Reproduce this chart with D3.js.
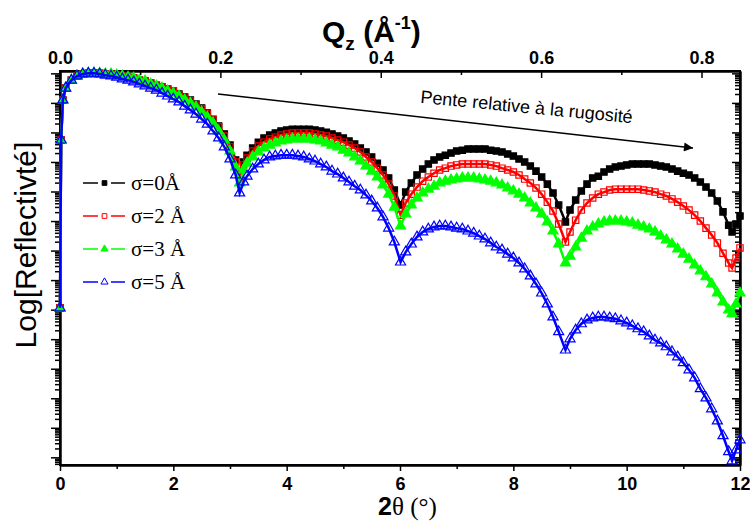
<!DOCTYPE html>
<html lang="fr">
<head>
<meta charset="utf-8">
<title>Réflectivité</title>
<script src="https://cdn.jsdelivr.net/npm/d3@7"></script>
<style>
  body { margin: 0; background: #fff; }
  svg { display: block; }
  .ax text { font-family: "Liberation Sans Narrow", "Arial Narrow", "Liberation Sans", sans-serif; font-weight: bold; font-size: 18px; fill: #000; }
  .ax path { stroke: #000; stroke-width: 2; }
  .ax line { stroke: #000; stroke-width: 1.5; }
</style>
</head>
<body>
<svg id="chart" width="750" height="524"></svg>
<script>
// 2theta (deg) sampling
const twoTheta = [0, 0.02, 0.05,
  0.1, 0.2, 0.3, 0.4, 0.5, 0.6, 0.7, 0.8, 0.9, 1.0, 1.1, 1.2, 1.3, 1.4, 1.5, 1.6, 1.7, 1.8, 1.9, 2.0,
  2.1, 2.2, 2.3, 2.4, 2.5, 2.6, 2.7, 2.8, 2.9, 3.0, 3.1,
  3.17, 3.24,
  3.3, 3.4, 3.5, 3.6, 3.7, 3.8, 3.9, 4.0, 4.1, 4.2, 4.3, 4.4, 4.5, 4.6, 4.7, 4.8, 4.9, 5.0, 5.1, 5.2, 5.3, 5.4, 5.5, 5.6, 5.7, 5.8, 5.9,
  6.01,
  6.1, 6.2, 6.3, 6.4, 6.5, 6.6, 6.7, 6.8, 6.9, 7.0, 7.1, 7.2, 7.3, 7.4, 7.5, 7.6, 7.7, 7.8, 7.9, 8.0, 8.1, 8.2, 8.3, 8.4, 8.5, 8.6, 8.7, 8.8,
  8.92,
  9.0, 9.1, 9.2, 9.3, 9.4, 9.5, 9.6, 9.7, 9.8, 9.9, 10.0, 10.1, 10.2, 10.3, 10.4, 10.5, 10.6, 10.7, 10.8, 10.9, 11.0, 11.1, 11.2, 11.3, 11.4, 11.5, 11.6, 11.7, 11.8,
  11.86, 11.93, 12.0];

// log10(reflectivity) for each roughness
const sigma0 = [-7.94, -2.26, -0.90,
  -0.50, -0.23, -0.09, -0.02, 0, 0, 0, -0.02, -0.02, -0.06, -0.09, -0.13, -0.16, -0.23, -0.26, -0.33, -0.40, -0.46, -0.53, -0.60,
  -0.70, -0.80, -0.90, -1.04, -1.17, -1.34, -1.55, -1.78, -2.05, -2.43, -2.93,
  -3.44, -3.00,
  -2.77, -2.53, -2.33, -2.19, -2.09, -2.02, -1.95, -1.92, -1.89, -1.89, -1.89, -1.89, -1.92, -1.95, -1.99, -2.05, -2.12, -2.19, -2.29, -2.39, -2.53, -2.66, -2.83, -3.04, -3.27, -3.54, -3.95,
  -4.46,
  -4.02, -3.71, -3.44, -3.24, -3.07, -2.93, -2.83, -2.77, -2.70, -2.63, -2.60, -2.56, -2.56, -2.56, -2.56, -2.60, -2.63, -2.66, -2.73, -2.80, -2.90, -3.00, -3.14, -3.31, -3.51, -3.75, -4.05, -4.46,
  -5.03,
  -4.63, -4.29, -3.98, -3.75, -3.54, -3.48, -3.34, -3.24, -3.17, -3.14, -3.10, -3.07, -3.07, -3.07, -3.07, -3.10, -3.14, -3.17, -3.24, -3.31, -3.38, -3.44, -3.54, -3.68, -3.85, -4.05, -4.32, -4.69, -5.14,
  -5.37, -5.10, -4.83];

const sigma2 = [-7.94, -2.26, -0.90,
  -0.50, -0.23, -0.09, -0.02, 0, 0, 0, -0.02, -0.02, -0.06, -0.09, -0.13, -0.16, -0.23, -0.26, -0.33, -0.40, -0.46, -0.53, -0.60,
  -0.73, -0.84, -0.94, -1.07, -1.21, -1.38, -1.58, -1.82, -2.12, -2.49, -3.00,
  -3.54, -3.10,
  -2.87, -2.63, -2.46, -2.33, -2.22, -2.16, -2.09, -2.05, -2.02, -2.02, -2.02, -2.02, -2.05, -2.09, -2.12, -2.19, -2.26, -2.33, -2.43, -2.53, -2.66, -2.83, -3.00, -3.21, -3.44, -3.75, -4.15,
  -4.80,
  -4.39, -4.09, -3.85, -3.65, -3.51, -3.38, -3.27, -3.21, -3.14, -3.10, -3.07, -3.07, -3.07, -3.07, -3.07, -3.10, -3.14, -3.21, -3.27, -3.34, -3.44, -3.58, -3.71, -3.88, -4.09, -4.36, -4.66, -5.10,
  -5.71,
  -5.37, -4.97, -4.63, -4.39, -4.22, -4.09, -4.02, -3.95, -3.92, -3.92, -3.92, -3.92, -3.92, -3.95, -3.98, -4.02, -4.09, -4.15, -4.25, -4.36, -4.49, -4.63, -4.80, -5.00, -5.24, -5.47, -5.74, -6.09, -6.42,
  -6.59, -6.25, -5.91];

const sigma3 = [-7.94, -2.26, -0.90,
  -0.50, -0.23, -0.09, -0.02, 0, 0, 0, -0.02, -0.02, -0.06, -0.09, -0.13, -0.16, -0.23, -0.26, -0.36, -0.43, -0.50, -0.60, -0.67,
  -0.77, -0.90, -1.01, -1.14, -1.31, -1.48, -1.68, -1.95, -2.26, -2.63, -3.17,
  -3.71, -3.27,
  -3.04, -2.83, -2.66, -2.53, -2.43, -2.36, -2.29, -2.26, -2.22, -2.22, -2.22, -2.22, -2.26, -2.29, -2.36, -2.43, -2.49, -2.60, -2.70, -2.83, -2.97, -3.14, -3.31, -3.51, -3.78, -4.09, -4.53,
  -5.17,
  -4.76, -4.46, -4.22, -4.05, -3.92, -3.82, -3.71, -3.65, -3.61, -3.58, -3.54, -3.54, -3.54, -3.58, -3.61, -3.65, -3.71, -3.78, -3.88, -3.98, -4.09, -4.22, -4.39, -4.56, -4.76, -5.03, -5.34, -5.78,
  -6.42,
  -6.19, -5.88, -5.58, -5.34, -5.20, -5.10, -5.03, -5.00, -5.00, -5.00, -5.03, -5.07, -5.14, -5.20, -5.27, -5.37, -5.51, -5.64, -5.78, -5.95, -6.12, -6.29, -6.49, -6.69, -6.89, -7.13, -7.44, -7.74, -8.01,
  -8.14, -7.81, -7.44];

const sigma5 = [-7.94, -2.26, -0.90,
  -0.50, -0.23, -0.09, -0.02, 0, 0, -0.02, -0.06, -0.09, -0.13, -0.19, -0.23, -0.29, -0.36, -0.43, -0.50, -0.57, -0.67, -0.77, -0.87,
  -0.97, -1.11, -1.24, -1.38, -1.55, -1.72, -1.95, -2.19, -2.49, -2.90, -3.44,
  -4.05, -3.68,
  -3.48, -3.24, -3.07, -2.93, -2.83, -2.80, -2.77, -2.77, -2.77, -2.80, -2.83, -2.90, -2.97, -3.07, -3.17, -3.31, -3.41, -3.54, -3.68, -3.82, -3.95, -4.12, -4.32, -4.56, -4.86, -5.24, -5.71,
  -6.39,
  -6.05, -5.78, -5.54, -5.37, -5.27, -5.20, -5.17, -5.17, -5.20, -5.24, -5.27, -5.34, -5.41, -5.51, -5.61, -5.74, -5.88, -5.98, -6.12, -6.25, -6.42, -6.62, -6.86, -7.13, -7.44, -7.81, -8.25, -8.75,
  -9.37,
  -8.99, -8.69, -8.48, -8.35, -8.28, -8.25, -8.25, -8.28, -8.31, -8.38, -8.45, -8.55, -8.65, -8.75, -8.89, -9.03, -9.13, -9.26, -9.43, -9.60, -9.80, -10.04, -10.31, -10.68, -10.99, -11.36, -11.77, -12.27, -12.81,
  -13.12, -12.75, -12.41];

const seriesLabels = ["σ=0Å", "σ=2 Å", "σ=3 Å", "σ=5 Å"];
const seriesColors = ["#000000", "#ff0000", "#00ff00", "#0000ff"];
const xTicks = [0, 2, 4, 6, 8, 10, 12];
const xMinor = [1, 3, 5, 7, 9, 11];
const qzTicks = [0.0, 0.2, 0.4, 0.6, 0.8];
const qzMinor = [0.1, 0.3, 0.5, 0.7];
const qzMax = 0.848;

const svg = d3.select("#chart");
const L = 60, R = 740, T = 71, B = 465;

const x = d3.scaleLinear().domain([0, 12]).range([L, R]);
const q = d3.scaleLinear().domain([0, qzMax]).range([L, R]);
const y = d3.scaleLog().domain([Math.pow(10, -13.26), Math.pow(10, 0.08)]).range([B, T]);

// log ticks
const decades = d3.range(-13, 1).map(e => Math.pow(10, e));
const minors = [];
d3.range(-14, 0).forEach(e => {
  for (let k = 2; k <= 9; k++) {
    const v = k * Math.pow(10, e);
    if (v > y.domain()[0] && v < y.domain()[1]) minors.push(v);
  }
});

// frame
svg.append("rect")
  .attr("x", L).attr("y", T).attr("width", R - L).attr("height", B - T)
  .attr("fill", "none").attr("stroke", "#000").attr("stroke-width", 2);

// bottom axis
svg.append("g").attr("class", "ax").attr("transform", `translate(0,${B})`)
  .call(d3.axisBottom(x).tickValues(xTicks).tickSize(6).tickSizeOuter(0).tickPadding(6).tickFormat(d3.format("d")));
svg.append("g").attr("class", "ax").attr("transform", `translate(0,${B})`)
  .call(d3.axisBottom(x).tickValues(xMinor).tickSize(4).tickSizeOuter(0).tickFormat(""));

// top axis (Qz), ticks inward
svg.append("g").attr("class", "ax").attr("transform", `translate(0,${T})`)
  .call(d3.axisTop(q).tickValues(qzTicks).tickSizeInner(-7).tickSizeOuter(0).tickPadding(7).tickFormat(d3.format(".1f")));
svg.append("g").attr("class", "ax").attr("transform", `translate(0,${T})`)
  .call(d3.axisTop(q).tickValues(qzMinor).tickSizeInner(-4).tickSizeOuter(0).tickFormat(""));

// left axis, ticks outward, no labels
svg.append("g").attr("class", "ax").attr("transform", `translate(${L},0)`)
  .call(d3.axisLeft(y).tickValues(decades).tickSize(9).tickSizeOuter(0).tickFormat(""));
svg.append("g").attr("class", "ax").attr("transform", `translate(${L},0)`)
  .call(d3.axisLeft(y).tickValues(minors).tickSize(5).tickSizeOuter(0).tickFormat(""));

// right axis, ticks inward
svg.append("g").attr("class", "ax").attr("transform", `translate(${R},0)`)
  .call(d3.axisLeft(y).tickValues(decades).tickSize(8).tickSizeOuter(0).tickFormat(""));
svg.append("g").attr("class", "ax").attr("transform", `translate(${R},0)`)
  .call(d3.axisLeft(y).tickValues(minors).tickSize(5).tickSizeOuter(0).tickFormat(""));

// series
const allSeries = [sigma0, sigma2, sigma3, sigma5];
const symbols = [d3.symbolSquare, d3.symbolSquare, d3.symbolTriangle, d3.symbolTriangle];
const filled = [true, false, true, false];

const line = d3.line().x(d => x(d[0])).y(d => y(Math.pow(10, d[1])));

allSeries.forEach((vals, i) => {
  const pts = twoTheta.map((t, j) => [t, vals[j]]);
  const g = svg.append("g");
  g.append("path").datum(pts)
    .attr("d", line)
    .attr("fill", "none")
    .attr("stroke", seriesColors[i])
    .attr("stroke-width", 2.5);
  const sym = d3.symbol().type(symbols[i]).size(i < 2 ? 40 : 44);
  g.selectAll("path.m").data(pts).join("path")
    .attr("class", "m")
    .attr("d", sym)
    .attr("transform", d => `translate(${x(d[0])},${y(Math.pow(10, d[1]))})`)
    .attr("fill", filled[i] ? seriesColors[i] : "none")
    .attr("stroke", seriesColors[i])
    .attr("stroke-width", 1.2);
});

// legend
const leg = svg.append("g");
seriesLabels.forEach((lab, i) => {
  const ly = 183 + i * 33;
  leg.append("line").attr("x1", 83).attr("x2", 98).attr("y1", ly).attr("y2", ly)
    .attr("stroke", seriesColors[i]).attr("stroke-width", 1.5);
  leg.append("line").attr("x1", 111).attr("x2", 125).attr("y1", ly).attr("y2", ly)
    .attr("stroke", seriesColors[i]).attr("stroke-width", 1.5);
  leg.append("path")
    .attr("d", d3.symbol().type(symbols[i]).size(22))
    .attr("transform", `translate(104.5,${ly})`)
    .attr("fill", filled[i] ? seriesColors[i] : "#fff")
    .attr("stroke", seriesColors[i]).attr("stroke-width", 1);
  leg.append("text").attr("x", 131).attr("y", ly + 7)
    .attr("font-family", "Liberation Serif, Times New Roman, serif")
    .attr("font-size", 21).attr("fill", "#000")
    .text(lab);
});

// annotation arrow
const defs = svg.append("defs");
defs.append("marker").attr("id", "arr").attr("viewBox", "0 0 10 10")
  .attr("refX", 10).attr("refY", 5).attr("markerWidth", 11).attr("markerHeight", 9)
  .attr("markerUnits", "userSpaceOnUse").attr("orient", "auto")
  .append("path").attr("d", "M0,0 L10,5 L0,10 z").attr("fill", "#000");
svg.append("line").attr("x1", 218).attr("y1", 94).attr("x2", 693).attr("y2", 148)
  .attr("stroke", "#000").attr("stroke-width", 1.5).attr("marker-end", "url(#arr)");
svg.append("text")
  .attr("transform", "translate(526,113) rotate(5.5)")
  .attr("text-anchor", "middle")
  .attr("font-family", "Liberation Sans, Arial, sans-serif")
  .attr("font-size", 18).attr("fill", "#000")
  .text("Pente relative à la rugosité");

// axis titles
const xt = svg.append("text").attr("x", 378).attr("y", 515).attr("fill", "#000");
xt.append("tspan").attr("font-family", "Liberation Sans, Arial, sans-serif").attr("font-weight", "bold").attr("font-size", 25).text("2");
xt.append("tspan").attr("font-family", "Liberation Serif, Times New Roman, serif").attr("font-size", 25).text("θ (°)");

const qt = svg.append("text").attr("x", 322).attr("y", 42).attr("fill", "#000")
  .attr("font-family", "Liberation Sans Narrow, Arial Narrow, Liberation Sans, sans-serif").attr("font-weight", "bold");
qt.append("tspan").attr("font-size", 30).text("Q");
qt.append("tspan").attr("font-size", 19).attr("dy", 8).text("z");
qt.append("tspan").attr("font-size", 30).attr("dy", -8).text(" (Å");
qt.append("tspan").attr("font-size", 18).attr("dy", -13).text("-1");
qt.append("tspan").attr("font-size", 30).attr("dy", 13).text(")");

svg.append("text")
  .attr("transform", "translate(36,245) rotate(-90)")
  .attr("text-anchor", "middle")
  .attr("font-family", "Liberation Sans, Arial, sans-serif")
  .attr("font-size", 30).attr("fill", "#000")
  .text("Log[Reflectivté]");
</script>
</body>
</html>
